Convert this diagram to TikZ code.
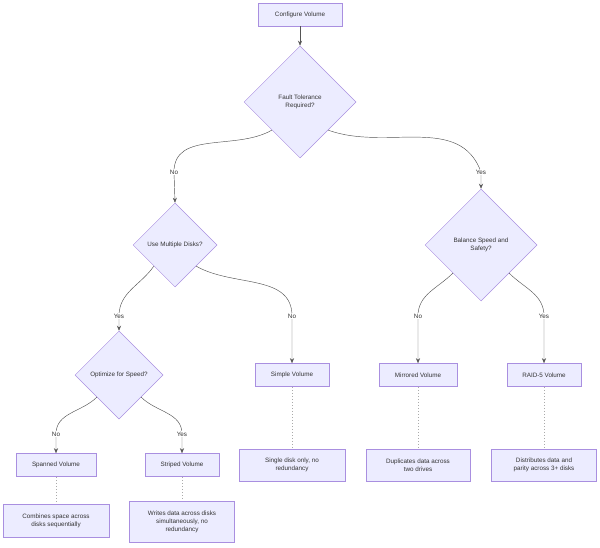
\documentclass[tikz,border=0pt]{standalone}
\usepackage{fontspec}
\setmainfont{Liberation Sans}
\usetikzlibrary{shapes.geometric,arrows.meta}
\begin{document}
\begin{tikzpicture}[x=1pt,y=-1pt,
  box/.style={draw=mstroke,fill=mfill,line width=0.5pt,minimum height=23pt,align=center,text=mtext,font=\fontsize{6.3}{8}\selectfont,inner sep=2pt},
  dia/.style={draw=mstroke,fill=mfill,line width=0.5pt,diamond,aspect=1,inner sep=0pt,align=center,text=mtext,font=\fontsize{6.3}{8}\selectfont},
  arr/.style={draw=mline,line width=0.45pt,-{Stealth[length=5pt,width=4pt]}},
  dot/.style={draw=mline!50,line width=0.4pt,dash pattern=on 1.5pt off 1.5pt},
  lbl/.style={fill=white,inner sep=1pt,text=mtext,font=\fontsize{6.3}{8}\selectfont}]
\definecolor{mfill}{HTML}{ECECFF}
\definecolor{mstroke}{HTML}{A98FE0}
\definecolor{mtext}{HTML}{333333}
\definecolor{mline}{HTML}{555555}
\useasboundingbox (0,0) rectangle (600,548);
\node[box,minimum width=84pt] (cv) at (300,14.5) {Configure Volume};
\node[dia,minimum width=112pt,minimum height=112pt] (ft) at (300,102) {Fault Tolerance\\Required?};
\node[dia,minimum width=84pt,minimum height=84pt] (um) at (175,245) {Use Multiple Disks?};
\node[dia,minimum width=112pt,minimum height=112pt] (bs) at (481,245) {Balance Speed and\\Safety?};
\node[dia,minimum width=88pt,minimum height=88pt] (os) at (119,375) {Optimize for Speed?};
\node[box,minimum width=74pt] (sv) at (292,375) {Simple Volume};
\node[box,minimum width=78pt] (mv) at (418,375) {Mirrored Volume};
\node[box,minimum width=74pt] (rv) at (544,375) {RAID-5 Volume};
\node[box,minimum width=80pt] (spv) at (56,465) {Spanned Volume};
\node[box,minimum width=74pt] (stv) at (182,465) {Striped Volume};
\node[box,minimum width=106pt,minimum height=32pt] (sn) at (292,465) {Single disk only, no\\redundancy};
\node[box,minimum width=104pt,minimum height=32pt] (mn) at (418,465) {Duplicates data across\\two drives};
\node[box,minimum width=105pt,minimum height=32pt] (rn) at (544,465) {Distributes data and\\parity across 3+ disks};
\node[box,minimum width=106pt,minimum height=33pt] (spn) at (56,520.5) {Combines space across\\disks sequentially};
\node[box,minimum width=105pt,minimum height=41pt] (stn) at (182,521.5) {Writes data across disks\\simultaneously, no\\redundancy};
\coordinate (c1) at (174,172); \coordinate (c2) at (481,172);
\coordinate (c3) at (119,316); \coordinate (c4) at (292,316);
\coordinate (c5) at (418,316); \coordinate (c6) at (544,316);
\coordinate (c7) at (56,434); \coordinate (c8) at (182,434);
\draw[arr] (cv) -- (ft);
\draw[arr] (ft.south west) to[out=210,in=90] (c1) -- (um.north);
\draw[arr] (ft.south east) to[out=-20,in=110] (c2) -- (bs.north);
\draw[arr] (um.south west) to[out=235,in=90] (c3) -- (os.north);
\draw[arr] (um.south east) to[out=-30,in=90] (c4) -- (sv.north);
\draw[arr] (bs.south west) to[out=225,in=90] (c5) -- (mv.north);
\draw[arr] (bs.south east) to[out=-45,in=90] (c6) -- (rv.north);
\draw[arr] (os.south west) to[out=225,in=90] (c7) -- (spv.north);
\draw[arr] (os.south east) to[out=-45,in=90] (c8) -- (stv.north);
\node[lbl] (l1) at (c1) {No}; \node[lbl] (l2) at (c2) {Yes};
\node[lbl] (l3) at (c3) {Yes}; \node[lbl] (l4) at (c4) {No};
\node[lbl] (l5) at (c5) {No}; \node[lbl] (l6) at (c6) {Yes};
\node[lbl] (l7) at (c7) {No}; \node[lbl] (l8) at (c8) {Yes};
\draw[dot] (sv) -- (sn); \draw[dot] (mv) -- (mn); \draw[dot] (rv) -- (rn);
\draw[dot] (spv) -- (spn); \draw[dot] (stv) -- (stn);
\end{tikzpicture}
\end{document}
